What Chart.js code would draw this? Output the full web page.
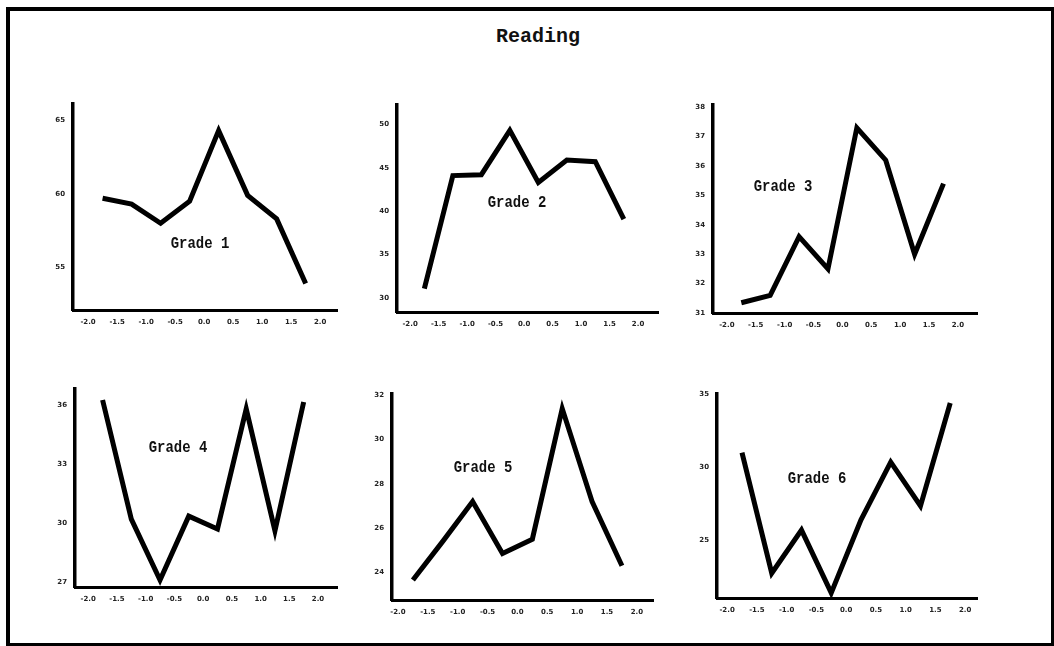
<!DOCTYPE html>
<html>
<head>
<meta charset="utf-8">
<script src="https://cdn.jsdelivr.net/npm/chart.js@4/dist/chart.umd.min.js"></script>
<style>
  html, body { margin: 0; padding: 0; background: #fff; }
  #page { position: relative; width: 1054px; height: 646px; overflow: hidden; background: #fff; }
  #frame { position: absolute; left: 6px; top: 7px; width: 1041px; height: 632px; border: 4px solid #000; }
  #title { position: absolute; left: 438px; top: 25px; width: 200px; text-align: center;
           font: bold 20px "Liberation Mono", "DejaVu Sans Mono", monospace; color: #111; }
  .panel { position: absolute; }
  .grade { position: absolute; font: bold 17px "Liberation Mono", "DejaVu Sans Mono", monospace;
           color: #111; transform: translate(-50%, -50%) scaleX(0.82); white-space: nowrap; }
</style>
</head>
<body>
<div id="page">
  <div id="frame"></div>
  <div id="title">Reading</div>
</div>
<script>
// score bands (midpoints) and axis ticks
const xPoints = [-1.75, -1.25, -0.75, -0.25, 0.25, 0.75, 1.25, 1.75];
const xTicks = [-2.0, -1.5, -1.0, -0.5, 0.0, 0.5, 1.0, 1.5, 2.0];

const grade1 = [59.7, 59.3, 58.0, 59.5, 64.3, 59.9, 58.3, 53.9];
const grade2 = [31.1, 44.1, 44.2, 49.3, 43.3, 45.9, 45.7, 39.1];
const grade3 = [31.35, 31.6, 33.6, 32.5, 37.3, 36.2, 33.0, 35.4];
const grade4 = [36.25, 30.2, 27.1, 30.35, 29.7, 35.8, 29.6, 36.15];
const grade5 = [23.65, 25.4, 27.2, 24.85, 25.5, 31.4, 27.2, 24.3];
const grade6 = [31.0, 22.75, 25.7, 21.4, 26.4, 30.35, 27.35, 34.4];

const yTicks1 = [55, 60, 65];
const yTicks2 = [30, 35, 40, 45, 50];
const yTicks3 = [31, 32, 33, 34, 35, 36, 37, 38];
const yTicks4 = [27, 30, 33, 36];
const yTicks5 = [24, 26, 28, 30, 32];
const yTicks6 = [25, 30, 35];

const gradeNames = ['Grade 1', 'Grade 2', 'Grade 3', 'Grade 4', 'Grade 5', 'Grade 6'];

// panel placement: axis corner in page pixels, axis ranges, label spot
const panels = [
  { data: grade1, yTicks: yTicks1, axisX: 73,  top: 102, bottom: 310, right: 337, x: [-2.26, 2.29], y: [52.1, 66.1],  label: [200, 243] },
  { data: grade2, yTicks: yTicks2, axisX: 397, top: 103, bottom: 312, right: 658, x: [-2.23, 2.35], y: [28.4, 52.2],  label: [517, 202] },
  { data: grade3, yTicks: yTicks3, axisX: 713, top: 103, bottom: 313, right: 977, x: [-2.24, 2.33], y: [31.0, 38.07], label: [783, 186] },
  { data: grade4, yTicks: yTicks4, axisX: 75,  top: 387, bottom: 587, right: 337, x: [-2.23, 2.33], y: [26.75, 36.8], label: [178, 447] },
  { data: grade5, yTicks: yTicks5, axisX: 392, top: 392, bottom: 600, right: 653, x: [-2.10, 2.27], y: [22.75, 32.05], label: [483, 467] },
  { data: grade6, yTicks: yTicks6, axisX: 717, top: 392, bottom: 598, right: 977, x: [-2.17, 2.20], y: [21.05, 35.0], label: [817, 478] }
];

const page = document.getElementById('page');
const padLeft = 22, padTop = 10, padRight = 12, padBottom = 18;
const tickFont = { family: 'DejaVu Sans', size: 7, weight: 'bold' };

panels.forEach(function(p, i) {
    const wrap = document.createElement('div');
    wrap.className = 'panel';
    const w = (p.right - p.axisX) + padLeft + padRight;
    const h = (p.bottom - p.top) + padTop + padBottom;
    wrap.style.left = (p.axisX - padLeft) + 'px';
    wrap.style.top = (p.top - padTop) + 'px';
    const canvas = document.createElement('canvas');
    canvas.width = w;
    canvas.height = h;
    canvas.style.width = w + 'px';
    canvas.style.height = h + 'px';
    wrap.appendChild(canvas);
    page.appendChild(wrap);

    const lbl = document.createElement('div');
    lbl.className = 'grade';
    lbl.textContent = gradeNames[i];
    lbl.style.left = p.label[0] + 'px';
    lbl.style.top = p.label[1] + 'px';
    page.appendChild(lbl);

    new Chart(canvas.getContext('2d'), {
        type: 'line',
        data: {
            datasets: [{
                data: xPoints.map(function(x, k) { return { x: x, y: p.data[k] }; }),
                borderColor: '#000',
                borderWidth: 5,
                pointRadius: 0,
                tension: 0,
                fill: false,
                borderJoinStyle: 'miter'
            }]
        },
        options: {
            responsive: false,
            animation: false,
            events: [],
            layout: { padding: { left: 0, top: padTop, right: padRight, bottom: 0 } },
            plugins: { legend: { display: false }, tooltip: { enabled: false } },
            scales: {
                x: {
                    type: 'linear',
                    min: p.x[0],
                    max: p.x[1],
                    afterFit: function(s) { s.height = padBottom; },
                    afterBuildTicks: function(s) { s.ticks = xTicks.map(function(v) { return { value: v }; }); },
                    grid: { display: false, drawTicks: false },
                    border: { display: true, color: '#000', width: 3 },
                    ticks: {
                        color: '#222',
                        font: tickFont,
                        padding: 8,
                        maxRotation: 0,
                        autoSkip: false,
                        callback: function(v) { return Number(v).toFixed(1); }
                    }
                },
                y: {
                    type: 'linear',
                    min: p.y[0],
                    max: p.y[1],
                    afterFit: function(s) { s.width = padLeft; },
                    afterBuildTicks: function(s) { s.ticks = p.yTicks.map(function(v) { return { value: v }; }); },
                    grid: { display: false, drawTicks: false },
                    border: { display: true, color: '#000', width: 3.5 },
                    ticks: {
                        color: '#222',
                        font: tickFont,
                        padding: 8,
                        autoSkip: false
                    }
                }
            }
        }
    });
});
</script>
</body>
</html>
